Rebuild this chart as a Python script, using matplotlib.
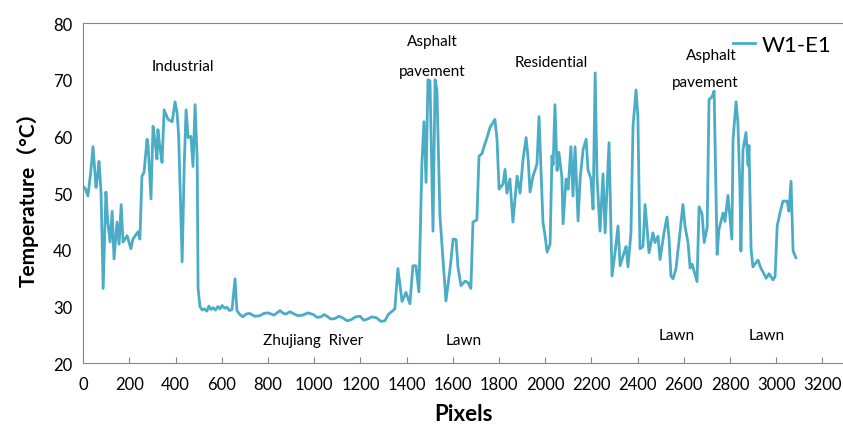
import matplotlib
matplotlib.use('Agg')
import matplotlib.pyplot as plt

plt.rcParams['font.family'] = ['Lato', 'Noto Sans CJK SC', 'DejaVu Sans']

# W1-E1 transect: pixel position and temperature (°C)
pixels = [0, 9, 20, 33, 42, 48, 55, 62, 68, 77, 86, 98, 106, 116, 125, 133, 146, 155, 164, 172,
          190, 206, 215, 237, 245, 254, 263, 276, 281, 293, 302, 311, 319, 323, 332, 341, 350,
          367, 385, 397, 406, 413, 428, 437, 445, 454, 466, 475, 484, 493, 497, 505, 515, 525,
          535, 544, 553, 562, 572, 583, 592, 601, 612, 622, 633, 644, 657, 665, 678, 691, 705,
          720, 742, 765, 782, 800, 826, 852, 866, 880, 894, 908, 929, 950, 973, 996, 1013, 1030,
          1042, 1055, 1072, 1090, 1107, 1124, 1142, 1160, 1179, 1198, 1214, 1230, 1250, 1271,
          1288, 1306, 1320, 1349, 1362, 1380, 1397, 1414,
          1427, 1440, 1453, 1466, 1475, 1484, 1492, 1501, 1514, 1523, 1531, 1544, 1570, 1588,
          1601, 1614, 1622, 1635, 1653, 1666, 1678, 1687, 1704, 1713, 1726, 1735, 1748, 1761,
          1782, 1791, 1800, 1817, 1826, 1834, 1847, 1860, 1878, 1891, 1904, 1917, 1926, 1934,
          1947, 1964, 1973, 1990, 1999, 2008, 2021, 2029, 2034, 2042, 2051, 2059, 2072, 2077,
          2090, 2099, 2111, 2120, 2129, 2142, 2151, 2164, 2177, 2185, 2198, 2207, 2216, 2224,
          2237, 2250, 2259, 2276, 2289, 2302, 2315, 2324, 2341, 2350, 2358, 2371, 2380, 2393,
          2401, 2410, 2423, 2432, 2440, 2449, 2466, 2475, 2488, 2497, 2514, 2527, 2536, 2544,
          2553, 2566, 2583, 2596, 2605, 2618, 2627, 2636, 2649, 2657, 2666, 2679, 2688, 2701,
          2709, 2722, 2731, 2744, 2752, 2770, 2778, 2791, 2808, 2813, 2826, 2834, 2843, 2847,
          2856, 2869, 2878, 2882, 2891, 2899, 2913, 2921, 2934, 2943, 2956, 2969, 2986, 2995,
          3004, 3016, 3029, 3047, 3055, 3064, 3073, 3085]
temps = [51.2, 50.8, 49.5, 54, 58.2, 55, 51, 53, 55.6, 50, 33.2, 50.2, 45, 41.4, 46.8, 38.4, 44.9,
         41, 48, 41.4, 42.5, 40.2, 41.9, 43.2, 41.9, 53, 53.7, 59.5, 58.2, 49, 61.8, 59, 56, 61.2,
         58, 55.4, 64.7, 63, 62.6, 66.1, 64.2, 60, 37.9, 55, 64.7, 59.8, 60, 54.7, 65.6, 56, 33.2,
         30, 29.4, 29.6, 29.2, 30.1, 29.5, 29.8, 29.4, 30.0, 29.6, 30.2, 29.7, 29.9, 29.3, 29.5,
         34.9, 29.3, 28.6, 28.2, 28.7, 28.8, 28.3, 28.4, 28.8, 28.9, 28.5, 29.3, 28.8, 28.7, 29.1,
         28.8, 28.4, 28.5, 28.9, 28.6, 28.1, 28.2, 28.6, 28.3, 27.8, 27.9, 28.3, 28.0, 27.5, 27.7,
         28.2, 28.3, 27.6, 27.8, 28.2, 28.0, 27.4, 27.5, 28.6, 29.6,
         36.7, 30.9, 32.5, 30.5, 37.2, 37.2, 32.6, 55.4, 62.6, 51.9, 70, 69.8, 43.3, 70, 68.2, 46,
         31, 36.7, 41.9, 41.8, 37, 33.7, 34.5, 34.2, 33.2, 44.9, 45.3, 56.5, 57, 58.2, 59.8, 61.6,
         63, 59.6, 50.7, 51.6, 54.2, 50, 52.5, 44.9, 53, 50, 56, 59.8, 56, 50.2, 53, 55.1, 63.5,
         44.9, 42.5, 39.6, 41, 56.6, 55, 65.6, 54, 57.2, 52.8, 44.6, 52.5, 50.7, 58.2, 49.5, 58.2,
         45.1, 52.6, 57.7, 59.5, 54.1, 52.5, 47.2, 71.2, 53, 43.3, 53.4, 43, 58.9, 35.4, 39.5, 44.2,
         37.2, 39.5, 40.6, 37, 43, 61.8, 68.2, 63.5, 40.2, 40.6, 48, 44.2, 39.5, 43, 41.3, 42.4,
         38.3, 43, 45.8, 42, 35.4, 34.9, 36.7, 43, 48, 44.2, 41.3, 36.8, 37.5, 35.6, 34.4, 47.6,
         46.3, 41.3, 44, 66.5, 67, 68, 39.2, 43.6, 46.5, 45, 49.6, 41.9, 59.5, 66.1, 62.4, 50.7,
         39.8, 57.7, 60.7, 54.9, 58.4, 40.2, 37, 37.8, 38.2, 36.7, 36.1, 35, 35.8, 34.7, 35.3,
         44.2, 46.5, 48.6, 48.6, 46.8, 52.1, 39.8, 38.6]

# land-cover labels along the transect
label_text = ['Industrial', 'Asphalt', 'pavement', 'Residential', 'Asphalt', 'pavement',
              'Zhujiang  River', 'Lawn', 'Lawn', 'Lawn']
label_x = [432, 1510, 1510, 2028, 2717, 2691, 995, 1648, 2570, 2960]
label_y = [72.4, 76.8, 71.5, 73.1, 74.3, 69.6, 24.1, 24.1, 25.0, 25.0]

fig = plt.figure(figsize=(8.43, 4.35), dpi=100)
ax = fig.add_axes([0.0988, 0.1625, 0.9012, 0.7823])
ax.plot(pixels, temps, color='#4BACC6', lw=2.0, label='W1-E1')

ax.set_xlim(0, 3289)
ax.set_ylim(20, 80)
ax.set_xticks(range(0, 3201, 200))
ax.set_yticks(range(20, 81, 10))
ax.tick_params(axis='x', direction='in', length=4, color='#868686', labelsize=12, pad=9)
ax.tick_params(axis='y', length=0, labelsize=12, pad=8)
for s in ['left', 'bottom', 'top']:
    ax.spines[s].set_color('#868686')
ax.spines['right'].set_visible(False)

for t, x, y in zip(label_text, label_x, label_y):
    ax.text(x, y, t, ha='center', va='center', fontsize=11)

ax.set_xlabel('Pixels', fontsize=16, fontweight='bold', labelpad=8)
ax.set_ylabel('Temperature（°C）', fontsize=15, fontweight='bold', labelpad=10)

ax.legend(loc='upper left', bbox_to_anchor=(0.855, 0.965), frameon=False, fontsize=16,
          handlelength=1.0, handletextpad=0.3, borderpad=0, borderaxespad=0)

plt.savefig('out.png')
